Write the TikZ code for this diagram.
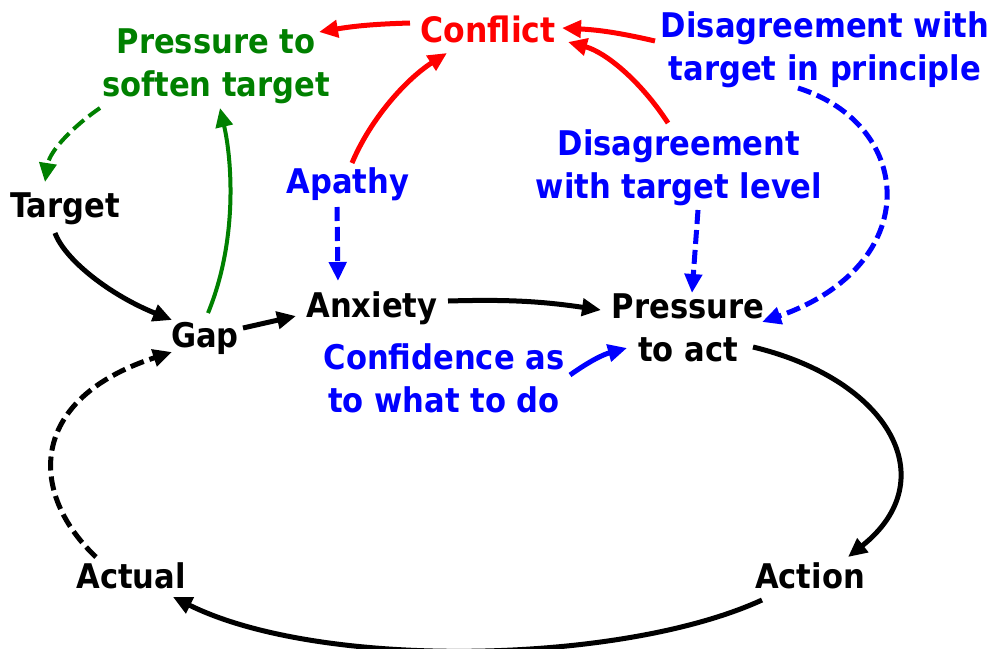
\documentclass[tikz,border=0pt]{standalone}
\usepackage{fontspec}
\setmainfont{DejaVu Sans Condensed}
\usetikzlibrary{arrows.meta,calc}
\definecolor{cred}{RGB}{255,0,0}
\definecolor{cblue}{RGB}{0,0,255}
\definecolor{cgreen}{RGB}{0,128,0}
% two centred lines, baseline on the first line
\newcommand\twoline[2]{\begin{tabular}[t]{@{}c@{}}#1\\#2\end{tabular}}
\begin{document}
\begin{tikzpicture}[x=1pt,y=-1pt,
  lbl/.style={inner sep=0pt, anchor=base, font=\fontsize{34}{43}\selectfont\bfseries},
  conn/.style={line width=5pt, -{Triangle[length=19pt,width=17pt]}},
  dsh/.style={dash pattern=on 14pt off 6pt}]
\useasboundingbox (0,0) rectangle (992,648);

% variables
\node[lbl, text=cred, font=\fontsize{35}{43}\selectfont\bfseries] (conflict) at (488,42) {Conflict};
\node[lbl, text=cgreen] (soften)     at (216,53)  {\twoline{Pressure to}{soften target}};
\node[lbl, text=cblue]  (principle)  at (825,37)  {\twoline{Disagreement with}{target in principle}};
\node[lbl, text=cblue]  (level)      at (679,155) {\twoline{Disagreement}{with target level}};
\node[lbl, text=cblue]  (apathy)     at (348,193) {Apathy};
\node[lbl]              (target)     at (65,217)  {Target};
\node[lbl]              (gap)        at (205,347) {Gap};
\node[lbl]              (anxiety)    at (372,317) {Anxiety};
\node[lbl]              (pressure)   at (688,318) {\twoline{Pressure}{to act}};
\node[lbl, text=cblue]  (confidence) at (444,369) {\twoline{Confidence as}{to what to do}};
\node[lbl]              (actual)     at (131,588) {Actual};
\node[lbl]              (action)     at (810,588) {Action};

% conflict links (red)
\draw[conn, cred] ($(conflict.base)+(-78,-19)$) to[bend right=4] ($(soften.base)+(103,-21)$);
\draw[conn, cred] ($(principle.base)+(-170,4)$) to[bend right=5] ($(conflict.base)+(74,-14)$);
\draw[conn, cred] ($(level.base)+(-11,-32)$) .. controls +(-28,-43) and +(37,10) .. ($(conflict.base)+(80,0)$);
\draw[conn, cred] ($(apathy.base)+(4,-30)$) .. controls +(18,-43) and +(-42,27) .. ($(conflict.base)+(-41,11)$);

% softening of the target (green)
\draw[conn, cgreen, line width=4pt] ($(gap.base)+(3,-34)$) .. controls +(30,-73) and +(12,52) .. ($(soften.base)+(4,55)$);
\draw[conn, cgreen, line width=4pt, dsh] ($(soften.base)+(-116,55)$) .. controls +(-25,17) and +(5,-32) .. ($(target.base)+(-20,-35)$);

% main chain (black)
\draw[conn] ($(target.base)+(-10,16)$) .. controls +(10,27) and +(-62,-25) .. ($(gap.base)+(-33,-27)$);
\draw[conn] ($(gap.base)+(38,-19)$) -- ($(anxiety.base)+(-76,-1)$);
\draw[conn] ($(anxiety.base)+(76,-16)$) to[bend left=5] ($(pressure.base)+(-87,-8)$);
\draw[conn] ($(pressure.base)+(65,29)$) .. controls +(137,33) and +(97,-77) .. ($(action.base)+(38,-31)$);
\draw[conn] ($(action.base)+(-48,12)$) .. controls +(-142,65) and +(147,73) .. ($(actual.base)+(42,9)$);
\draw[conn, dsh] ($(actual.base)+(-35,-31)$) .. controls +(-66,-62) and +(-147,48) .. ($(gap.base)+(-33,5)$);

% influences (blue)
\draw[conn, cblue, dsh] ($(apathy.base)+(-11,14)$) -- ($(anxiety.base)+(-34,-36)$);
\draw[conn, cblue, dsh] ($(level.base)+(19,55)$) -- ($(pressure.base)+(4,-25)$);
\draw[conn, cblue, dsh] ($(principle.base)+(-27,51)$) .. controls +(117,37) and +(163,-57) .. ($(pressure.base)+(74,4)$);
\draw[conn, cblue] ($(confidence.base)+(126,6)$) to[bend left=10] ($(pressure.base)+(-61,30)$);
\end{tikzpicture}
\end{document}
